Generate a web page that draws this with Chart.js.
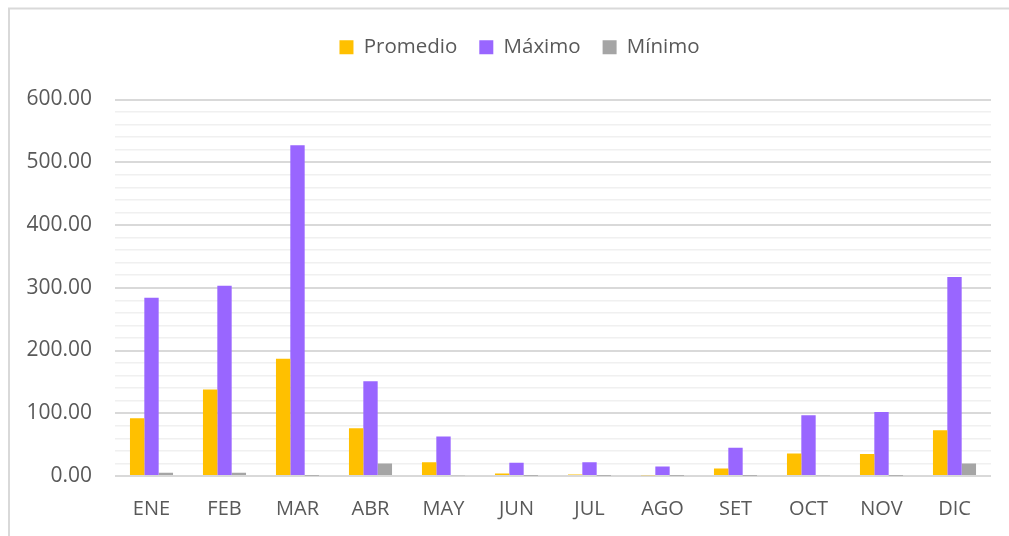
<!DOCTYPE html>
<html>
<head>
<meta charset="utf-8">
<script src="https://cdn.jsdelivr.net/npm/chart.js@4/dist/chart.umd.min.js"></script>
<style>
  html, body { margin: 0; padding: 0; background: #ffffff; }
  #wrap { position: absolute; left: 0; top: 0; width: 1009px; height: 536px; }
</style>
</head>
<body>
<div id="wrap"><canvas id="c" width="1009" height="536"></canvas></div>
<script>
const categories = ['ENE', 'FEB', 'MAR', 'ABR', 'MAY', 'JUN', 'JUL', 'AGO', 'SET', 'OCT', 'NOV', 'DIC'];
const promedio = [92, 138, 187, 76, 22, 4, 2.5, 1, 12, 36, 35, 73];
const maximo   = [284, 303, 527, 151, 63, 21, 22, 15, 45, 97, 102, 317];
const minimo   = [5, 5, 0.3, 20, 1, 0.3, 0.3, 0.3, 0.3, 1, 0.3, 20];
const seriesNames = ['Promedio', 'Máximo', 'Mínimo'];
const yMin = 0, yMax = 600, yMinorStep = 20, yMajorStep = 100;

const FONT = "'Open Sans', 'Noto Sans', sans-serif";
const TEXT = '#595959';

const frame = {
  id: 'frame',
  beforeLayout(chart) {
    const lg = chart.legend;
    if (lg && !lg._extraFit) {
      const orig = lg.fit;
      lg.fit = function () {
        orig.call(this);
        this.height += 32;
        this.bottom = this.top + this.height;
      };
      lg._extraFit = true;
    }
  },
  afterLayout(chart) {
    const lg = chart.legend;
    if (lg) { lg.left += 24; lg.right += 24; }
  },
  beforeDraw(chart) {
    const ctx = chart.ctx;
    ctx.save();
    ctx.fillStyle = '#ffffff';
    ctx.fillRect(0, 0, chart.width, chart.height);
    ctx.strokeStyle = '#d9d9d9';
    ctx.lineWidth = 2;
    ctx.beginPath();
    ctx.moveTo(9, chart.height);
    ctx.lineTo(9, 8.5);
    ctx.lineTo(chart.width, 8.5);
    ctx.stroke();
    ctx.restore();
  }
};

new Chart(document.getElementById('c'), {
  type: 'bar',
  data: {
    labels: categories,
    datasets: [
      { label: seriesNames[0], data: promedio, backgroundColor: '#FFC000' },
      { label: seriesNames[1], data: maximo, backgroundColor: '#9966FF' },
      { label: seriesNames[2], data: minimo, backgroundColor: '#A5A5A5' }
    ]
  },
  options: {
    responsive: false,
    animation: false,
    devicePixelRatio: 1,
    layout: { padding: { top: 15, right: 18, bottom: 0, left: 0 } },
    datasets: { bar: { categoryPercentage: 0.59, barPercentage: 1.0 } },
    plugins: {
      tooltip: { enabled: false },
      legend: {
        position: 'top',
        labels: {
          font: { family: FONT, size: 20.5 },
          color: TEXT,
          boxWidth: 14,
          boxHeight: 14,
          padding: 22
        }
      }
    },
    scales: {
      x: {
        grid: { display: false },
        border: { display: false },
        ticks: { font: { family: FONT, size: 20 }, color: TEXT, padding: 13 },
        afterFit(scale) { scale.height = 60; }
      },
      y: {
        min: yMin,
        max: yMax,
        border: { display: false },
        grid: {
          drawTicks: false,
          color: (c) => (c.tick && c.tick.value % yMajorStep === 0) ? '#d9d9d9' : '#f0f0f0',
          lineWidth: (c) => (c.tick && c.tick.value % yMajorStep === 0) ? 2 : 1.5
        },
        ticks: {
          stepSize: yMinorStep,
          autoSkip: false,
          padding: 23,
          font: { family: FONT, size: 21 },
          color: TEXT,
          callback: (v) => (v % yMajorStep === 0) ? Number(v).toFixed(2) : ''
        },
        afterFit(scale) { scale.width = 115; }
      }
    }
  },
  plugins: [frame]
});
</script>
</body>
</html>
